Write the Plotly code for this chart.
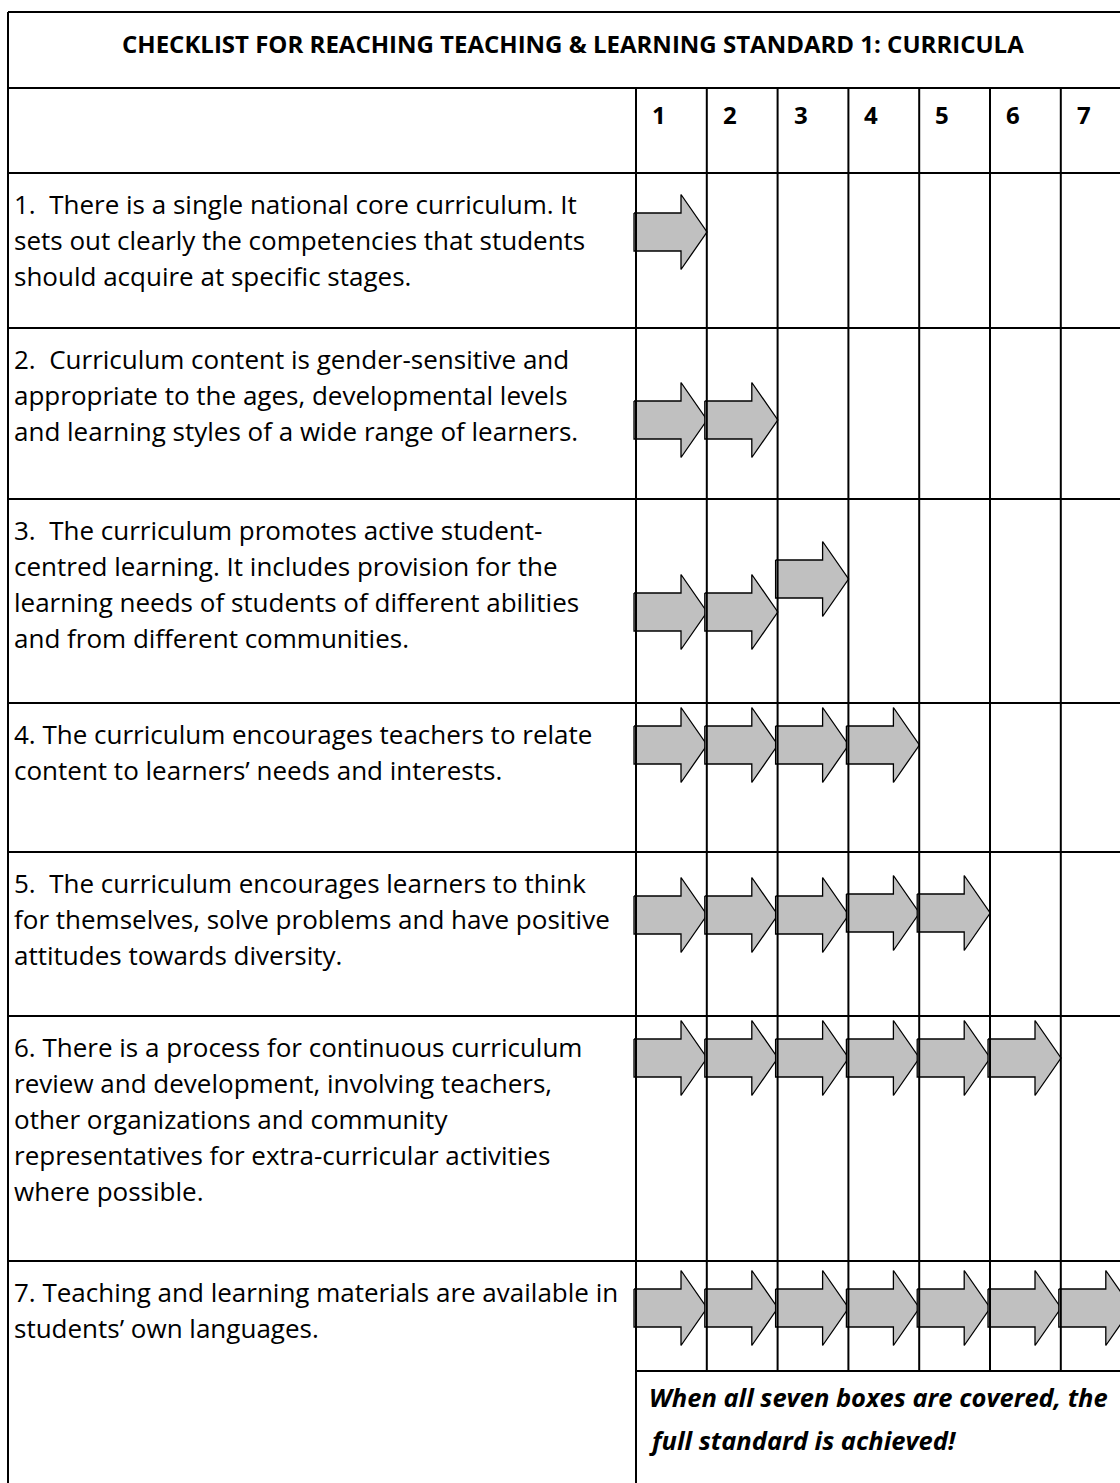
import plotly.graph_objects as go

# ---------------- data ----------------
title = "CHECKLIST FOR REACHING TEACHING &amp; LEARNING STANDARD 1: CURRICULA"
column_labels = ["1", "2", "3", "4", "5", "6", "7"]
criterion_1 = ["1.  There is a single national core curriculum. It",
               "sets out clearly the competencies that students",
               "should acquire at specific stages."]
criterion_2 = ["2.  Curriculum content is gender-sensitive and",
               "appropriate to the ages, developmental levels",
               "and learning styles of a wide range of learners."]
criterion_3 = ["3.  The curriculum promotes active student-",
               "centred learning. It includes provision for the",
               "learning needs of students of different abilities",
               "and from different communities."]
criterion_4 = ["4. The curriculum encourages teachers to relate",
               "content to learners’ needs and interests."]
criterion_5 = ["5.  The curriculum encourages learners to think",
               "for themselves, solve problems and have positive",
               "attitudes towards diversity."]
criterion_6 = ["6. There is a process for continuous curriculum",
               "review and development, involving teachers,",
               "other organizations and community",
               "representatives for extra-curricular activities",
               "where possible."]
criterion_7 = ["7. Teaching and learning materials are available in",
               "students’ own languages."]
criteria = [criterion_1, criterion_2, criterion_3, criterion_4,
            criterion_5, criterion_6, criterion_7]
boxes_covered = [1, 2, 3, 4, 5, 6, 7]
footer_lines = ["When all seven boxes are covered, the",
                "full standard is achieved!"]

# ---------------- layout (pixels) ----------------
W, H = 1120, 1483
X_LEFT, X_RIGHT = 8, 1131
COL0, COL_W = 636, 70.8
Y_TOP, Y_TITLE_BOTTOM, Y_HEAD_BOTTOM = 12, 88, 173
ROW_BOTTOMS = [328, 499, 703, 852, 1016, 1261, 1371]
ROW_TOPS = [Y_HEAD_BOTTOM] + ROW_BOTTOMS[:-1]
ARROW_Y = [[232], [420, 420], [612, 612, 579], [745, 745, 745, 745],
           [915, 915, 915, 913, 913], [1058] * 6, [1308] * 7]
TEXT_FIRST = 31
LINE_H = 36
FONT = "'Open Sans', sans-serif"
LINE_C = "black"
FILL_C = "#c0c0c0"

fig = go.Figure()

def col_left(i):
    return COL0 + i * COL_W

# arrow template (relative to left edge, vertical centre)
AX = [0, 47, 47, 73, 47, 47, 0, 0]
AY = [-19, -19, -37.5, 0, 37.5, 19, 19, -19]

for r, n in enumerate(boxes_covered):
    for c in range(n):
        x0 = col_left(c) - 2
        yc = ARROW_Y[r][c]
        fig.add_trace(go.Scatter(
            x=[x0 + a for a in AX], y=[yc + b for b in AY],
            mode="lines", fill="toself", fillcolor=FILL_C,
            line=dict(color="black", width=1.3), hoverinfo="skip",
            showlegend=False))

shapes = []
def hline(y, x0=X_LEFT, x1=X_RIGHT):
    shapes.append(dict(type="line", x0=x0, x1=x1, y0=y, y1=y,
                       xref="x", yref="y", line=dict(color=LINE_C, width=2)))
def vline(x, y0, y1):
    shapes.append(dict(type="line", x0=x, x1=x, y0=y0, y1=y1,
                       xref="x", yref="y", line=dict(color=LINE_C, width=2)))

hline(Y_TOP); hline(Y_TITLE_BOTTOM); hline(Y_HEAD_BOTTOM)
for yb in ROW_BOTTOMS[:-1]:
    hline(yb)
hline(ROW_BOTTOMS[-1], x0=COL0)
vline(X_LEFT, Y_TOP, H + 5)
vline(X_RIGHT, Y_TOP, H + 5)
vline(COL0, Y_TITLE_BOTTOM, H + 5)
for i in range(1, 8):
    vline(col_left(i), Y_TITLE_BOTTOM, ROW_BOTTOMS[-1])

ann = []
ann.append(dict(x=573, y=43, text="<b>" + title + "</b>",
                xref="x", yref="y", showarrow=False, xanchor="center",
                yanchor="middle", font=dict(family=FONT, size=24, color="black")))
for i, lab in enumerate(column_labels):
    ann.append(dict(x=col_left(i) + 14, y=114, text="<b>" + lab + "</b>",
                    xref="x", yref="y", showarrow=False, xanchor="left",
                    yanchor="middle", font=dict(family=FONT, size=24, color="black")))
for r, lines in enumerate(criteria):
    for k, t in enumerate(lines):
        ann.append(dict(x=12, y=ROW_TOPS[r] + TEXT_FIRST + k * LINE_H, text=t,
                        xref="x", yref="y", showarrow=False, xanchor="left",
                        yanchor="middle", font=dict(family=FONT, size=26, color="black")))
for k, t in enumerate(footer_lines):
    ann.append(dict(x=647, y=1397 + k * 43, text="<b><i>" + t + "</i></b>",
                    xref="x", yref="y", showarrow=False, xanchor="left",
                    yanchor="middle", font=dict(family=FONT, size=25.5, color="black")))

fig.update_layout(
    width=W, height=H, margin=dict(l=0, r=0, t=0, b=0),
    paper_bgcolor="white", plot_bgcolor="white",
    xaxis=dict(range=[0, W], visible=False, fixedrange=True),
    yaxis=dict(range=[H, 0], visible=False, fixedrange=True),
    shapes=shapes, annotations=ann, showlegend=False)

fig.write_html("out.html", config={"displayModeBar": False},
               post_script="document.body.style.margin='0';"
                           "document.body.style.overflow='hidden';")
